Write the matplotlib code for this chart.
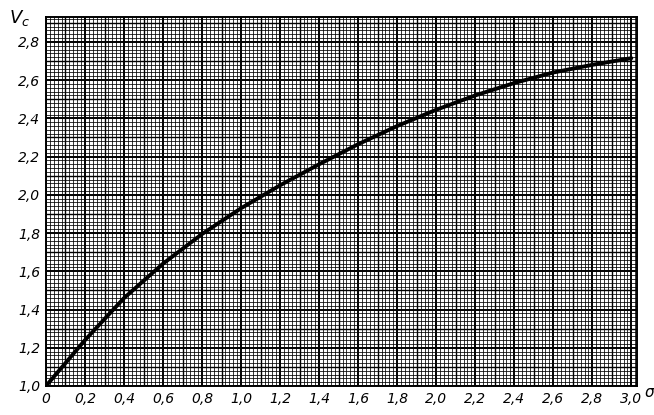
import numpy as np
import matplotlib
matplotlib.use("Agg")
import matplotlib.pyplot as plt

# Data
sigma = [0.0, 0.2, 0.4, 0.6, 0.8, 1.0, 1.2, 1.4, 1.6, 1.8, 2.0, 2.2, 2.4, 2.6, 2.8, 3.0]
vc = [1.0, 1.24, 1.46, 1.64, 1.795, 1.93, 2.05, 2.16, 2.265, 2.36, 2.445, 2.52, 2.585, 2.64, 2.68, 2.715]

x_ticks = [0.0, 0.2, 0.4, 0.6, 0.8, 1.0, 1.2, 1.4, 1.6, 1.8, 2.0, 2.2, 2.4, 2.6, 2.8, 3.0]
x_labels = ["0", "0,2", "0,4", "0,6", "0,8", "1,0", "1,2", "1,4", "1,6", "1,8",
            "2,0", "2,2", "2,4", "2,6", "2,8", "3,0"]
y_ticks = [1.0, 1.2, 1.4, 1.6, 1.8, 2.0, 2.2, 2.4, 2.6, 2.8]
y_labels = ["1,0", "1,2", "1,4", "1,6", "1,8", "2,0", "2,2", "2,4", "2,6", "2,8"]

fig = plt.figure(figsize=(6.54, 4.15), dpi=100)
ax = fig.add_axes([0.0703, 0.0699, 0.904, 0.889])
xmin, xmax = 0.0, 3.03
ymin, ymax = 1.0, 2.93
ax.set_xlim(xmin, xmax)
ax.set_ylim(ymin, ymax)

# graph-paper grid
for xv in np.arange(0, xmax + 1e-9, 0.02):
    k = int(round(xv / 0.02))
    if k % 10 == 0:
        lw = 1.4
    elif k % 5 == 0:
        lw = 1.0
    else:
        lw = 0.55
    ax.axvline(xv, color="black", lw=lw, zorder=1)
for yv in np.arange(1.0, ymax + 1e-9, 0.02):
    k = int(round((yv - 1.0) / 0.02))
    if k % 10 == 0:
        lw = 1.4
    elif k % 5 == 0:
        lw = 1.0
    else:
        lw = 0.55
    ax.axhline(yv, color="black", lw=lw, zorder=1)

ax.plot(sigma, vc, color="black", lw=2.8, zorder=3, solid_capstyle="round",
        solid_joinstyle="round")

ax.set_xticks(x_ticks)
ax.set_xticklabels(x_labels, fontstyle="italic", fontsize=10)
ax.set_yticks(y_ticks)
ax.set_yticklabels(y_labels, fontstyle="italic", fontsize=10)
ax.tick_params(length=0, pad=4)
for s in ax.spines.values():
    s.set_linewidth(1.4)

fig.text(20 / 654, 1 - 18 / 415, r"$V_c$", fontsize=13, ha="center", va="center")
fig.text(649 / 654, 1 - 392 / 415, "σ", fontsize=11, fontstyle="italic", ha="center", va="center")

fig.savefig("out.png", dpi=100)
